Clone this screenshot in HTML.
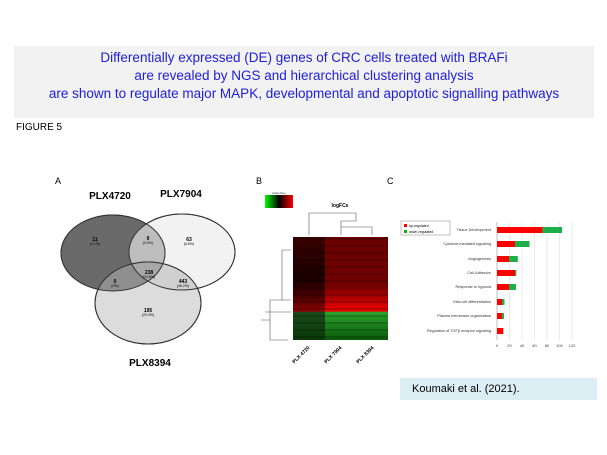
<!DOCTYPE html><html><head><style>
body{margin:0;width:607px;height:455px;background:#fff;position:relative;overflow:hidden;font-family:"Liberation Sans",sans-serif}
.t{position:absolute;left:14px;top:46px;width:580px;height:72px;background:#f2f2f2;color:#2020d8;font-size:13.5px;text-align:center;line-height:18px;padding-top:3px;box-sizing:border-box}
</style></head><body>
<div class="t">Differentially expressed (DE) genes of CRC cells treated with BRAFi<br>are revealed by NGS and hierarchical clustering analysis<br>are shown to regulate major MAPK, developmental and apoptotic signalling pathways</div>
<div style="position:absolute;left:16px;top:122px;font-size:10px">FIGURE 5</div>
<div style="position:absolute;left:400px;top:378px;width:197px;height:22px;background:#dbeef4;font-size:11px;line-height:22px;padding-left:12px;box-sizing:border-box">Koumaki et al. (2021).</div>
<svg width="607" height="455" style="position:absolute;left:0;top:0" font-family="Liberation Sans">
<text x="55" y="184" font-size="9">A</text>
<text x="256" y="184" font-size="9">B</text>
<text x="387" y="184" font-size="9">C</text>
<ellipse cx="182" cy="252" rx="53" ry="38" fill="#f2f2f2" stroke="#333"/>
<ellipse cx="113" cy="253" rx="52" ry="38" fill="#6a6a6a" stroke="#333"/>
<clipPath id="c1"><ellipse cx="113" cy="253" rx="52" ry="38"/></clipPath>
<ellipse cx="182" cy="252" rx="53" ry="38" fill="#bdbdbd" clip-path="url(#c1)"/>
<ellipse cx="148" cy="303" rx="53" ry="41" fill="#dcdcdc" stroke="#333"/>
<clipPath id="c2"><ellipse cx="148" cy="303" rx="53" ry="41"/></clipPath>
<ellipse cx="182" cy="252" rx="53" ry="38" fill="#d0d0d0" clip-path="url(#c2)"/>
<ellipse cx="113" cy="253" rx="52" ry="38" fill="#8f8f8f" clip-path="url(#c2)"/>
<g clip-path="url(#c2)"><ellipse cx="182" cy="252" rx="53" ry="38" fill="#a8a8a8" clip-path="url(#c1)"/></g>
<g fill="none" stroke="#333"><ellipse cx="113" cy="253" rx="52" ry="38"/><ellipse cx="182" cy="252" rx="53" ry="38"/><ellipse cx="148" cy="303" rx="53" ry="41"/></g>
<g font-weight="bold" font-size="10" text-anchor="middle"><text x="110" y="199">PLX4720</text><text x="181" y="197">PLX7904</text><text x="150" y="366">PLX8394</text></g>
<g font-size="5" text-anchor="middle" font-weight="bold"><text x="95" y="241">11</text><text x="148" y="240">9</text><text x="189" y="241">63</text><text x="149" y="274">238</text><text x="115" y="283">0</text><text x="183" y="283">443</text><text x="148" y="312">195</text></g>
<g font-size="3.5" text-anchor="middle"><text x="95" y="245">(1.1%)</text><text x="148" y="244">(0.9%)</text><text x="189" y="245">(6.6%)</text><text x="149" y="278">(24.8%)</text><text x="115" y="287">(0%)</text><text x="183" y="287">(46.2%)</text><text x="148" y="316">(20.3%)</text></g>
<defs><linearGradient id="ck"><stop offset="0" stop-color="#0f0"/><stop offset=".5" stop-color="#000"/><stop offset="1" stop-color="#f00"/></linearGradient>
<linearGradient id="c1g" x1="0" y1="0" x2="0" y2="1"><stop offset="0" stop-color="#3a0000"/><stop offset=".4" stop-color="#1a0000"/><stop offset=".6" stop-color="#500000"/><stop offset=".72" stop-color="#900000"/><stop offset=".73" stop-color="#1a4a1a"/><stop offset="1" stop-color="#0a3a0a"/></linearGradient>
<linearGradient id="c2g" x1="0" y1="0" x2="0" y2="1"><stop offset="0" stop-color="#6a0000"/><stop offset=".45" stop-color="#700000"/><stop offset=".6" stop-color="#b00000"/><stop offset=".72" stop-color="#f00000"/><stop offset=".73" stop-color="#2aa02a"/><stop offset="1" stop-color="#0a5a0a"/></linearGradient>
<pattern id="st" width="6" height="7" patternUnits="userSpaceOnUse"><rect width="6" height="2" fill="#000" opacity=".18"/></pattern></defs>
<rect x="265" y="195" width="28" height="13" fill="url(#ck)"/>
<text x="279" y="194" font-size="3" text-anchor="middle">Color Key</text>
<text x="340" y="207" font-size="5" font-weight="bold" text-anchor="middle">logFCs</text>
<rect x="293" y="237" width="32" height="103" fill="url(#c1g)"/>
<rect x="325" y="237" width="32" height="103" fill="url(#c2g)"/>
<rect x="357" y="237" width="31" height="103" fill="url(#c2g)"/>
<rect x="293" y="237" width="95" height="103" fill="url(#st)"/>
<g stroke="#555" stroke-width=".6" fill="none"><path d="M309 235V213H356V221M341 235V227H372V235M341 227V221h15"/><path d="M291 250H282V300H270V320H261M291 300H282M270 320V340H288"/><path d="M265 312H291"/></g>
<g font-size="5" font-weight="bold" text-anchor="end"><text transform="translate(310,348) rotate(-45)">PLX 4720</text><text transform="translate(342,348) rotate(-45)">PLX 7904</text><text transform="translate(374,348) rotate(-45)">PLX 8394</text></g>
<rect x="401" y="221" width="49" height="14" fill="#fff" stroke="#999" stroke-width=".6"/>
<rect x="404" y="224" width="3" height="3" fill="red"/><rect x="404" y="230" width="3" height="3" fill="#1a1"/>
<text x="409" y="227" font-size="3.5">up-regulated</text><text x="409" y="233" font-size="3.5">down-regulated</text>
<g stroke="#ddd" stroke-width=".6"><line x1="509.5" y1="222" x2="509.5" y2="340"/><line x1="522" y1="222" x2="522" y2="340"/><line x1="534.5" y1="222" x2="534.5" y2="340"/><line x1="547" y1="222" x2="547" y2="340"/><line x1="559.5" y1="222" x2="559.5" y2="340"/><line x1="572" y1="222" x2="572" y2="340"/></g>
<line x1="497" y1="222" x2="497" y2="340" stroke="#999" stroke-width=".6"/>
<g font-size="4" fill="#444" text-anchor="middle"><text x="497" y="347">0</text><text x="509.5" y="347">20</text><text x="522" y="347">40</text><text x="534.5" y="347">60</text><text x="547" y="347">80</text><text x="559.5" y="347">100</text><text x="572" y="347">120</text></g>
<g font-size="3.8" fill="#333" text-anchor="end">
<text x="491" y="231">Tissue Development</text><text x="491" y="245">Cytokine-mediated signaling</text><text x="491" y="260">Angiogenesis</text><text x="491" y="274">Cell-Adhesion</text><text x="491" y="288">Response to hypoxia</text><text x="491" y="303">Glial cell differentiation</text><text x="491" y="317">Plasma membrane organization</text><text x="491" y="332">Regulation of TGFβ receptor signaling</text></g>
<g fill="red"><rect x="497" y="227" width="45.6" height="6"/><rect x="497" y="241" width="18" height="6"/><rect x="497" y="256" width="12" height="6"/><rect x="497" y="270" width="18" height="6"/><rect x="497" y="284" width="12" height="6"/><rect x="497" y="299" width="5" height="6"/><rect x="497" y="313" width="5" height="6"/><rect x="497" y="328" width="6.3" height="6"/></g>
<g fill="#1db04a"><rect x="542.6" y="227" width="19.4" height="6"/><rect x="515" y="241" width="14.5" height="6"/><rect x="509" y="256" width="8.8" height="6"/><rect x="515" y="270" width="1.3" height="6"/><rect x="509" y="284" width="7" height="6"/><rect x="502" y="299" width="2.5" height="6"/><rect x="502" y="313" width="2" height="6"/></g>
</svg>
</body></html>
